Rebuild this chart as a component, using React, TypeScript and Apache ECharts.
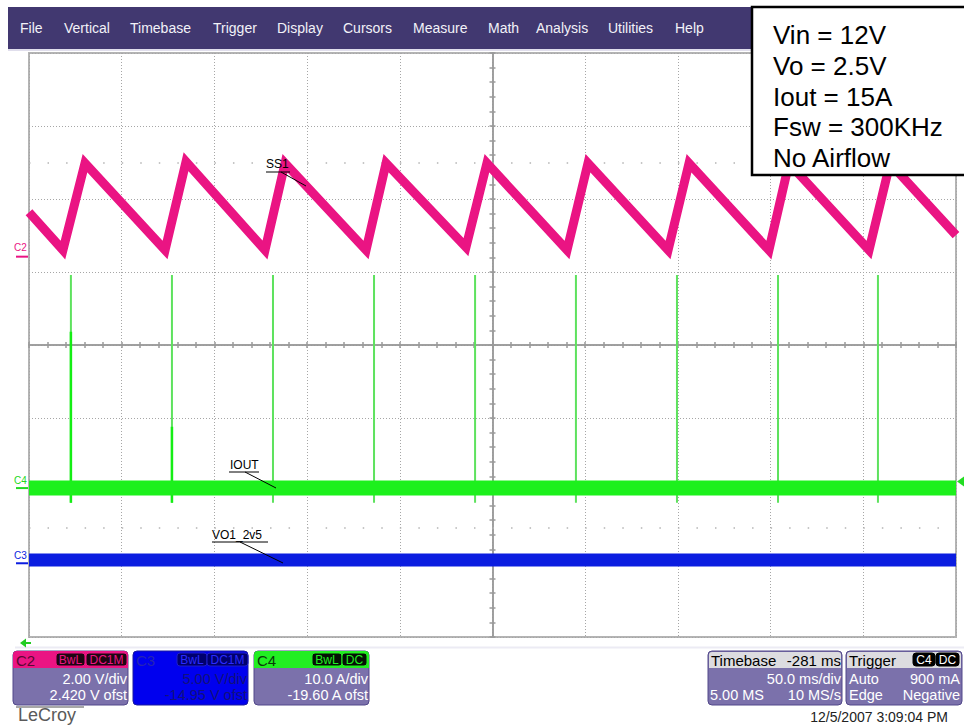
import React, { useEffect, useRef } from "react";
import * as echarts from "echarts";

// ---- Channel settings ----
const c2VoltsPerDiv = 2.0;
const c2Offset = 2.42;
const c3VoltsPerDiv = 5.0;
const c3Offset = -14.95;
const c4AmpsPerDiv = 10.0;
const c4Offset = -19.6;

// ---- Time axis: ms relative to the screen centre, 50 ms/div ----
const timeMin = -250;
const timeMax = 250;
const timePerDiv = 50;

// SS1 (C2) sawtooth vertices
const ss1Times = [-250, -231.7, -219.8, -176.6, -165.3, -122.7, -111.9, -68.2, -57.4, -14.3, -3.0, 40.2, 51.5, 94.7, 106.0, 149.1, 159.9, 203.1, 214.4, 250];
const ss1Volts = [1.22, 0.18, 2.56, 0.18, 2.6, 0.18, 2.56, 0.18, 2.56, 0.26, 2.56, 0.18, 2.56, 0.18, 2.56, 0.18, 2.56, 0.18, 2.56, 0.59];

// IOUT (C4)
const ioutTimes = [-250, 250];
const ioutAmps = [0.0, 0.0];
const spikeTimes = [-227.4, -172.9, -118.4, -63.9, -9.4, 45.0, 99.5, 154.0, 207.9];
const spikeTopAmps = [29.2, 29.2, 29.2, 29.2, 29.2, 29.2, 29.2, 29.2, 29.2];
const spikeBottomAmps = [-2.0, -2.0, -2.0, -2.0, -2.0, -2.0, -2.0, -2.0, -2.0];
const spikeBrightTopAmps = [21.4, 8.4, null, null, null, null, null, null, null];

// VO1_2v5 (C3)
const voTimes = [-250, 250];
const voVolts = [0.22, 0.22];

// Texts
const menuItems = ["File", "Vertical", "Timebase", "Trigger", "Display", "Cursors", "Measure", "Math", "Analysis", "Utilities", "Help"];
const menuX = [20, 64, 130, 213, 277, 343, 413, 488, 536, 608, 675];
const infoLines = ["Vin = 12V", "Vo = 2.5V", "Iout = 15A", "Fsw = 300KHz", "No Airflow"];

const FF = "'Liberation Sans', Arial, Helvetica, sans-serif";
const PINK = "#ea1483";
const GREEN = "#1cf01c";
const BLUE = "#0b1de0";
const BODY = "#7b71ab";

const c2 = (v: number) => (v + c2Offset) / c2VoltsPerDiv;
const c3 = (v: number) => (v + c3Offset) / c3VoltsPerDiv;
const c4 = (a: number) => (a + c4Offset) / c4AmpsPerDiv;

function txt(x: number, y: number, text: string, fill: string, size: number, align = "left", z = 60, weight = "normal") {
  return {
    type: "text",
    x,
    y,
    z,
    silent: true,
    style: { text, fill, font: `${weight} ${size}px ${FF}`, textAlign: align, textVerticalAlign: "middle" },
  };
}
function rect(x: number, y: number, w: number, h: number, fill: string, r: any = 0, stroke: string | null = null, lw = 1, z = 50) {
  return {
    type: "rect",
    z,
    silent: true,
    shape: { x, y, width: w, height: h, r },
    style: stroke ? { fill, stroke, lineWidth: lw } : { fill },
  };
}
function line(x1: number, y1: number, x2: number, y2: number, stroke: string, lw = 1, z = 60) {
  return { type: "line", z, silent: true, shape: { x1, y1, x2, y2 }, style: { stroke, lineWidth: lw } };
}
function tag(x: number, y: number, w: number, label: string, fill: string, color: string, stroke: string) {
  return [rect(x, y, w, 13, fill, 3, stroke, 1, 55), txt(x + w / 2, y + 7, label, color, 12, "center", 56)];
}

export default function App() {
  const ref = useRef<HTMLDivElement>(null);
  useEffect(() => {
    if (!ref.current) return;
    const chart = echarts.init(ref.current, undefined, { renderer: "svg" });

    const spikeData: any[] = [];
    spikeTimes.forEach((t, i) => {
      spikeData.push([t, c4(spikeBottomAmps[i])], [t, c4(spikeTopAmps[i])], [t, "-"]);
    });
    const brightData: any[] = [];
    spikeTimes.forEach((t, i) => {
      const b = spikeBrightTopAmps[i];
      if (b !== null) brightData.push([t, c4(spikeBottomAmps[i])], [t, c4(b)], [t, "-"]);
    });

    const axisColor = "#9a9a9a";
    const xBase = {
      type: "value",
      min: timeMin,
      max: timeMax,
      interval: timePerDiv,
      axisLabel: { show: false },
      axisLine: { show: true, onZero: true, lineStyle: { color: axisColor, width: 1.5 } },
      minorTick: { show: true, splitNumber: 5, length: 3, lineStyle: { color: axisColor, width: 1.5 } },
    };
    const yBase = {
      type: "value",
      min: -4,
      max: 4,
      interval: 1,
      axisLabel: { show: false },
      axisLine: { show: true, onZero: true, lineStyle: { color: axisColor, width: 1.5 } },
      minorTick: { show: true, splitNumber: 5, length: 3, lineStyle: { color: axisColor, width: 1.5 } },
    };

    chart.setOption({
      animation: false,
      backgroundColor: "#ffffff",
      grid: { left: 29, top: 53, width: 927, height: 584, show: true, borderColor: "#b4b4b4", borderWidth: 2, backgroundColor: "#ffffff" },
      xAxis: [
        {
          ...xBase,
          axisTick: { show: true, inside: true, length: 3, lineStyle: { color: axisColor, width: 1.5 } },
          splitLine: { show: true, lineStyle: { color: "#a6a6a6", type: [1, 2], width: 1 } },
        },
        {
          ...xBase,
          position: "bottom",
          axisTick: { show: true, inside: false, length: 3, lineStyle: { color: axisColor, width: 1.5 } },
          splitLine: { show: false },
        },
      ],
      yAxis: [
        {
          ...yBase,
          axisTick: { show: true, inside: true, length: 3, lineStyle: { color: axisColor, width: 1.5 } },
          splitLine: { show: true, lineStyle: { color: "#a6a6a6", type: [1, 2], width: 1 } },
        },
        {
          ...yBase,
          position: "left",
          axisTick: { show: true, inside: false, length: 3, lineStyle: { color: axisColor, width: 1.5 } },
          splitLine: { show: false },
        },
      ],
      series: [
        {
          name: "VO1_2v5",
          type: "line",
          showSymbol: false,
          silent: true,
          data: voTimes.map((t, i) => [t, c3(voVolts[i])]),
          lineStyle: { color: BLUE, width: 13 },
          z: 3,
          markLine: {
            silent: true,
            symbol: ["none", "none"],
            label: { show: false },
            lineStyle: { color: "#b4b4b4", type: [1.5, 17.04], width: 1.5 },
            data: [{ yAxis: 2.5 }, { yAxis: -2.5 }],
          },
        },
        {
          name: "IOUT spikes",
          type: "line",
          showSymbol: false,
          silent: true,
          connectNulls: false,
          data: spikeData,
          lineStyle: { color: "#5ee25e", width: 2 },
          z: 4,
        },
        {
          name: "IOUT spikes bright",
          type: "line",
          showSymbol: false,
          silent: true,
          connectNulls: false,
          data: brightData,
          lineStyle: { color: "#14ee14", width: 2.5 },
          z: 4,
        },
        {
          name: "IOUT",
          type: "line",
          showSymbol: false,
          silent: true,
          data: ioutTimes.map((t, i) => [t, c4(ioutAmps[i])]),
          lineStyle: { color: GREEN, width: 15 },
          z: 5,
        },
        {
          name: "SS1",
          type: "line",
          showSymbol: false,
          silent: true,
          data: ss1Times.map((t, i) => [t, c2(ss1Volts[i])]),
          lineStyle: { color: PINK, width: 9, join: "miter" },
          z: 6,
        },
      ],
    });

    const py = (d: number) => chart.convertToPixel({ yAxisIndex: 0 }, d) as number;
    const g2 = py(c2(0));
    const g4 = py(c4(0));
    const g3 = py(c3(0));
    const trig = py(c4(0.9));

    const els: any[] = [];
    // menu bar
    els.push(rect(8, 7, 956, 42, "#413870", 0, null, 1, 40));
    els.push(line(8, 50, 964, 50, "#d6d3e6", 1.5, 40));
    menuItems.forEach((m, i) => els.push(txt(menuX[i], 28, m, "#f2f2f8", 14, "left", 41)));

    // info box
    els.push(rect(752, 7, 216, 168, "#ffffff", 0, "#000000", 2.5, 80));
    infoLines.forEach((l, i) => els.push(txt(773, 35 + i * 30.8, l, "#000000", 26, "left", 81)));

    // channel ground markers
    els.push(txt(14, g2 - 9, "C2", PINK, 10, "left"));
    els.push(line(16, g2, 28, g2, PINK, 2));
    els.push(txt(14, g4 - 8, "C4", "#22d822", 10, "left"));
    els.push(line(16, g4, 28, g4, "#22d822", 2));
    els.push(txt(14, g3 - 8, "C3", BLUE, 10, "left"));
    els.push(line(16, g3, 28, g3, BLUE, 2));

    // trigger level marker (right)
    els.push({ type: "polygon", z: 60, silent: true, shape: { points: [[957, trig], [964, trig - 5], [964, trig + 5]] }, style: { fill: "#22dd22" } });
    // horizontal position arrow (bottom left)
    els.push(line(23, 643, 31, 643, "#22cc22", 2));
    els.push({ type: "polygon", z: 60, silent: true, shape: { points: [[20, 643], [26, 638.5], [26, 647.5]] }, style: { fill: "#22cc22" } });

    // trace labels with leaders
    els.push(txt(266, 164, "SS1", "#000000", 12, "left", 70));
    els.push(line(266, 172, 290, 172, "#000000", 1, 70));
    els.push(line(281, 172, 306, 186, "#000000", 1, 70));
    els.push(txt(230, 465, "IOUT", "#000000", 12, "left", 70));
    els.push(line(229, 472, 259, 472, "#000000", 1, 70));
    els.push(line(245, 472, 276, 488, "#000000", 1, 70));
    els.push(txt(212, 535, "VO1_2v5", "#000000", 12, "left", 70));
    els.push(line(212, 542, 268, 542, "#000000", 1, 70));
    els.push(line(240, 542, 283, 563, "#000000", 1, 70));

    // faint separator
    els.push(line(15, 647.5, 964, 647.5, "#ecebf4", 2, 40));

    // C2 box
    els.push(rect(13, 651, 115, 54, BODY, 4, "#52488a", 1));
    els.push(rect(13, 651, 115, 17, PINK, [4, 4, 0, 0], null, 1, 51));
    els.push(txt(16, 660, "C2", "#5a0832", 15));
    els.push(...tag(56, 653, 29, "BwL", "#1c0612", PINK, PINK));
    els.push(...tag(86, 653, 41, "DC1M", "#1c0612", PINK, PINK));
    els.push(txt(127, 679, "2.00 V/div", "#ffffff", 14.5, "right"));
    els.push(txt(127, 695, "2.420 V ofst", "#ffffff", 14.5, "right"));

    // C3 box
    els.push(rect(133, 651, 115, 54, "#0000ee", 4, "#1a1aa0", 1));
    els.push(txt(136, 660, "C3", "#2424b4", 15));
    els.push(...tag(177, 653, 30, "BwL", "#00006e", "#2a2aff", "#1e1ec8"));
    els.push(...tag(207, 653, 41, "DC1M", "#00006e", "#2a2aff", "#1e1ec8"));
    els.push(txt(247, 679, "5.00 V/div", "#12127c", 14.5, "right"));
    els.push(txt(247, 695, "-14.95 V ofst", "#12127c", 14.5, "right"));

    // C4 box
    els.push(rect(254, 651, 115, 54, BODY, 4, "#52488a", 1));
    els.push(rect(254, 651, 115, 17, "#22ee22", [4, 4, 0, 0], null, 1, 51));
    els.push(txt(257, 660, "C4", "#0a3a0a", 15));
    els.push(...tag(312, 653, 30, "BwL", "#041004", "#22ee22", "#22ee22"));
    els.push(...tag(342, 653, 25, "DC", "#041004", "#22ee22", "#22ee22"));
    els.push(txt(368, 679, "10.0 A/div", "#ffffff", 14.5, "right"));
    els.push(txt(368, 695, "-19.60 A ofst", "#ffffff", 14.5, "right"));

    // Timebase box
    els.push(rect(708, 651, 134, 54, BODY, 4, "#52488a", 1));
    els.push(rect(709, 652, 132, 16, "#dcdce0", [3, 3, 0, 0], null, 1, 51));
    els.push(txt(711, 660, "Timebase", "#000000", 15));
    els.push(txt(841, 660, "-281 ms", "#000000", 15, "right"));
    els.push(txt(841, 679, "50.0 ms/div", "#ffffff", 14.5, "right"));
    els.push(txt(710, 695, "5.00 MS", "#ffffff", 14.5, "left"));
    els.push(txt(841, 695, "10 MS/s", "#ffffff", 14.5, "right"));

    // Trigger box
    els.push(rect(846, 651, 116, 54, BODY, 4, "#52488a", 1));
    els.push(rect(847, 652, 114, 16, "#dcdce0", [3, 3, 0, 0], null, 1, 51));
    els.push(txt(849, 660, "Trigger", "#000000", 15));
    els.push(...tag(913, 653, 22, "C4", "#000000", "#ffffff", "#000000"));
    els.push(...tag(936, 653, 23, "DC", "#000000", "#ffffff", "#000000"));
    els.push(txt(849, 679, "Auto", "#ffffff", 14.5, "left"));
    els.push(txt(960, 679, "900 mA", "#ffffff", 14.5, "right"));
    els.push(txt(849, 695, "Edge", "#ffffff", 14.5, "left"));
    els.push(txt(960, 695, "Negative", "#ffffff", 14.5, "right"));

    // logo and date
    els.push(line(16, 707, 84, 707, "#8a8a8a", 1.5));
    els.push(txt(18, 715, "LeCroy", "#5a5a5a", 18, "left"));
    els.push(txt(948, 717, "12/5/2007 3:09:04 PM", "#222222", 14, "right"));

    chart.setOption({ graphic: { elements: els } });

    return () => chart.dispose();
  }, []);

  return <div ref={ref} style={{ position: "fixed", left: 0, top: 0, width: 964, height: 726, background: "#ffffff" }} />;
}
